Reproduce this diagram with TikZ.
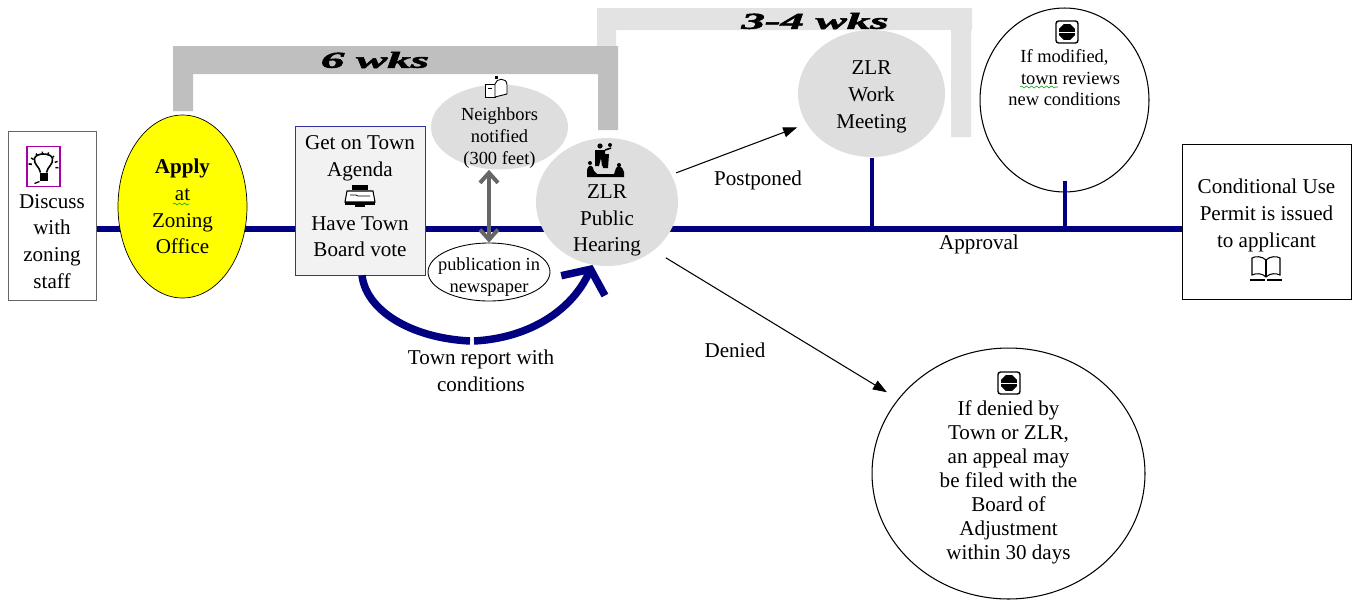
\documentclass[tikz,border=0pt]{standalone}
\usepackage{fontspec}
\setmainfont{Liberation Serif}
\newfontfamily\weekfont[FakeBold=2]{Liberation Serif}
\usetikzlibrary{arrows.meta,backgrounds,decorations.pathmorphing,shapes.geometric}

\definecolor{zlrnavy}{HTML}{000080}
\definecolor{zlrgrey}{HTML}{DEDEDE}
\definecolor{zlrblue}{HTML}{333399}
\definecolor{zlryellow}{HTML}{FFFF00}

\tikzset{
    boxnode/.style = {draw, rectangle, align=center, font=\fontsize{12}{15.2}\selectfont},
    roundnode/.style = {ellipse, inner sep=-0.2cm, align=center, font=\fontsize{12}{15.2}\selectfont},
    smallnode/.style = {roundnode, font=\fontsize{10.5}{12.5}\selectfont},
    textnode/.style = {align=center, font=\fontsize{12}{15.2}\selectfont},
    weeks/.style = {font=\fontsize{13}{13}\weekfont\bfseries\itshape, xscale=2.05},
    mainline/.style = {zlrnavy, line width=0.13cm},
    branch/.style = {zlrnavy, line width=0.08cm},
    bow/.style = {zlrnavy, line width=0.15cm},
    thinarrow/.style = {-{Triangle[length=0.28cm,width=0.2cm]}, line width=0.6pt},
    squiggle/.style = {draw=green!60!black, line width=0.3pt, decorate,
        decoration={snake, amplitude=0.02cm, segment length=0.1cm}},
    pics/bulb/.style = {code={
        \draw[violet!70!magenta, line width=0.7pt, fill=white] (-16.5,-20) rectangle (16.5,20);
        \draw[line width=0.9pt] (-3,6) .. controls (-4,0) and (-10,-2) .. (-9,-8)
            .. controls (-8,-14) and (8,-14) .. (9,-8) .. controls (10,-2) and (4,0) .. (3,6);
        \fill (-4,6) rectangle (4,14);
        \draw[line width=0.7pt] (-4,15) -- (-9,17);
        \foreach \ang in {-170,-145,-120,-95,-70,-45,-20,5,190}
            \draw[line width=0.8pt] (\ang:12) -- (\ang:15);
    }},
    pics/stopsign/.style = {code={
        \draw[line width=0.8pt, rounded corners=1.5pt, fill=white] (-11,-11) rectangle (11,11);
        \node[regular polygon, regular polygon sides=8, fill=black, inner sep=0pt,
            minimum size=0.34cm] (stopmark) at (0,0) {};
        \draw[white, line width=0.5pt] (-8,0) -- (8,0);
    }},
    pics/typewriter/.style = {code={
        \fill (-8,-11) rectangle (8,-6);
        \draw[line width=0.6pt, fill=white] (-13,-5) -- (13,-5) -- (15,6) -- (-15,6) -- cycle;
        \draw[line width=0.4pt] (-10,-1) -- (-4,-1) -- (-2,0) -- (10,0);
        \fill (-15,6) rectangle (15,9);
        \fill (-5,9) rectangle (5,11);
    }},
    pics/mailbox/.style = {code={
        \draw[line width=0.5pt, fill=white] (-13,-4) -- (-3,-4) -- (-3,9) -- (-13,9) -- cycle;
        \draw[line width=0.5pt, fill=white] (-3,-4) .. controls (-2,-10) and (9,-11) .. (9,-3)
            -- (9,6) -- (-3,9) -- cycle;
        \draw[line width=0.4pt] (-10,0) -- (-6,0);
        \fill (-3,-9) rectangle (0,-12);
    }},
    pics/speaker/.style = {code={
        \fill (-4,-14) circle (2.6);
        \fill (-9,-10) -- (1,-10) -- (2,6) -- (-2,6) -- (-3,-2) -- (-5,6) -- (-9,6) -- cycle;
        \draw[line width=0.9pt] (1,-10) -- (7,-12);
        \fill (6,-15) circle (2);
        \fill (-2,-6) -- (5,-6) -- (4,8) -- (-1,8) -- cycle;
        \fill (-17,17) -- (-17,10) .. controls (-15,3) and (-11,5) .. (-10,11) -- (-7,14) -- (10,14)
            -- (12,8) .. controls (14,4) and (19,7) .. (20,12) -- (20,17) -- cycle;
        \fill (-14,3) circle (2);
        \fill (15,5) circle (2);
    }},
    pics/openbook/.style = {code={
        \draw[line width=0.6pt, fill=white] (0,-8) .. controls (-4,-12) and (-11,-12) .. (-14,-10)
            -- (-14,7) .. controls (-10,5) and (-4,5) .. (0,9)
            .. controls (4,5) and (10,5) .. (14,7) -- (14,-10)
            .. controls (11,-12) and (4,-12) .. (0,-8) -- cycle;
        \draw[line width=0.6pt] (0,-8) -- (0,9);
        \draw[line width=0.8pt] (-16,12) -- (-1,12) (1,12) -- (16,12);
    }},
}

\begin{document}
\begin{tikzpicture}[x=0.02cm, y=-0.02cm]
    \useasboundingbox (0,0) rectangle (1354,602);

    % grey week brackets
    \fill[black!11] (597,46) -- (597,8) -- (972,8) -- (972,30) -- (971,30) -- (971,137)
        -- (951,137) -- (951,30) -- (616,30) -- (616,46) -- cycle;
    \fill[black!25] (173,111) -- (173,46) -- (618,46) -- (618,130) -- (598,130)
        -- (598,74) -- (193,74) -- (193,111) -- cycle;
    \node[weeks] (sixweeks) at (375,60) {6 wks};
    \node[weeks] (threefour) at (815,21) {3-4 wks};

    % steps along the line
    \node[boxnode, draw=black!60, minimum width=1.76cm, minimum height=3.38cm] (discuss) at (52,215.5)
        {~\\~\\[6.8pt]Discuss\\with\\zoning\\staff};
    \node[roundnode, draw, fill=zlryellow, minimum width=2.58cm, minimum height=3.66cm] (apply) at (182.5,206.5)
        {\textbf{Apply}\\at\\Zoning\\Office};
    \node[boxnode, draw=zlrblue, fill=black!5, minimum width=2.6cm, minimum height=2.98cm] (agenda) at (360,200.5)
        {Get on Town\\Agenda\\~\\Have Town\\Board vote\\[-10.5pt]~};
    \node[smallnode, inner ysep=-0.3cm, fill=zlrgrey, minimum width=2.74cm, minimum height=1.7cm] (neighbors) at (499.5,127)
        {~\\[7.4pt]Neighbors\\notified\\(300 feet)};
    \node[smallnode, inner ysep=-0.3cm, draw, fill=white, line width=0.5pt, minimum width=2.44cm, minimum height=1.16cm] (publication) at (489,272)
        {~\\[0.4pt]publication in\\newspaper};
    \node[roundnode, fill=zlrgrey, minimum width=2.84cm, minimum height=2.56cm] (hearing) at (607,202)
        {~\\[13.6pt]ZLR\\Public\\Hearing};
    \node[roundnode, fill=zlrgrey, minimum width=2.94cm, minimum height=2.54cm] (work) at (871.5,93.5)
        {~\\[-3.6pt]ZLR\\Work\\Meeting};
    \node[smallnode, draw, fill=white, line width=0.6pt, minimum width=3.38cm, minimum height=3.68cm] (modified) at (1064.5,100)
        {~\\[6.8pt]If modified,\\\hspace*{0.24cm}town reviews\\new conditions\\~\\~\\~};
    \node[roundnode, inner ysep=-0.5cm, draw, fill=white, line width=0.6pt, minimum width=5.46cm, minimum height=5.02cm,
        font=\fontsize{12}{13.7}\selectfont] (denied) at (1008.5,473.5)
        {~\\[13.6pt]If denied by\\Town or ZLR,\\an appeal may\\be filed with the\\Board of\\Adjustment\\within 30 days\\[-2pt]~};
    \node[boxnode, minimum width=3.38cm, minimum height=3.1cm] (permit) at (1266.5,221.5)
        {~\\[-1pt]Conditional Use\\Permit is issued\\to applicant\\~};

    % labels
    \node[textnode] (postponed) at (758,180) {Postponed};
    \node[textnode] (approval) at (979,244) {Approval};
    \node[textnode] (deniedlabel) at (735,350) {Denied};
    \node[textnode] (report) at (481,371) {Town report with\\conditions};

    % icons
    \pic at (43.5,166.5) {bulb};
    \pic at (360,196) {typewriter};
    \pic at (498,88) {mailbox};
    \pic at (604,160) {speaker};
    \pic at (1067,32) {stopsign};
    \pic at (1009,383) {stopsign};
    \pic at (1266,268) {openbook};

    % spelling marks
    \draw[squiggle] (173,204) -- (189,204);
    \draw[squiggle] (1020,87) -- (1058,87);

    % connectors
    \coordinate (lineref) at (700,229);
    \coordinate (bowleft) at (470,341);
    \coordinate (bowright) at (474,341);
    \begin{scope}[on background layer]
        \draw[mainline] (discuss.east |- lineref) -- (permit.west |- lineref);
    \end{scope}
    \draw[branch] (work.south) ++(0,1) -- (work.south |- lineref);
    \draw[branch] (modified.south) ++(0,-12) -- (modified.south |- lineref);
    \draw[thinarrow, shorten <=0.1cm, shorten >=0.2cm] (hearing.23) -- (work.205);
    \draw[thinarrow, shorten <=0.28cm, shorten >=0.26cm] (hearing.-46) -- (denied.146);
    \draw[{Straight Barb[length=0.2cm,width=0.36cm]}-{Straight Barb[length=0.2cm,width=0.36cm]},
        black!60, line width=0.08cm] (publication.north) -- (publication.north |- neighbors.south);
    \draw[bow] (agenda.south) ++(2,0) .. controls (366,310) and (410,338) .. (bowleft);
    \draw[bow, -{Straight Barb[length=0.36cm,width=0.96cm]}] (bowright)
        .. controls (530,338) and (572,310) .. (hearing.-103);
\end{tikzpicture}
\end{document}
